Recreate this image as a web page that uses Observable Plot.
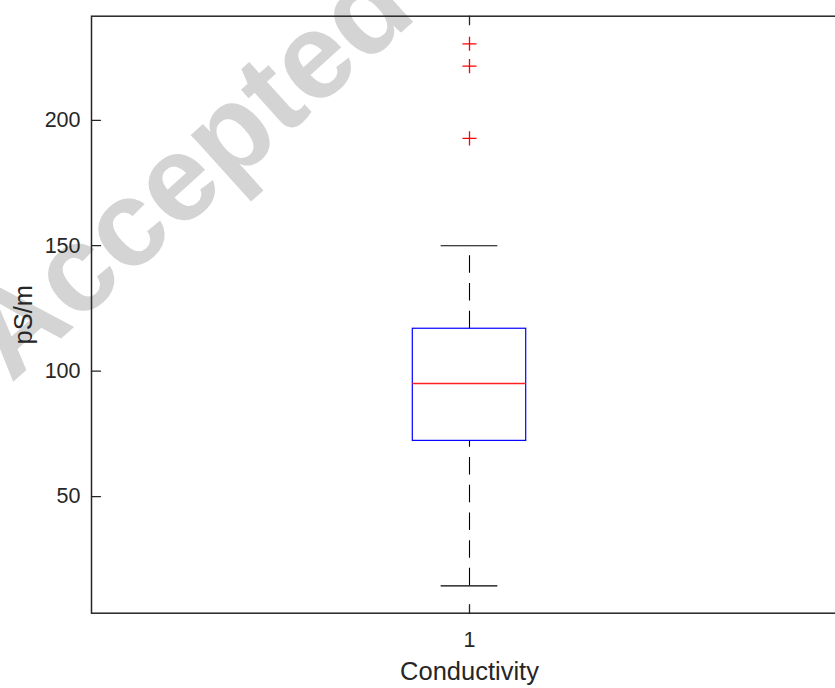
<!DOCTYPE html>
<html>
<head>
<meta charset="utf-8">
<script src="https://cdn.jsdelivr.net/npm/d3@7"></script>
<script src="https://cdn.jsdelivr.net/npm/@observablehq/plot@0.6"></script>
<style>
  html, body { margin: 0; padding: 0; background: #fff; overflow: hidden; }
  #chart svg { display: block; overflow: hidden; }
</style>
</head>
<body>
<div id="chart"></div>
<script>
// Box-plot summary for the single conductivity group (pS/m)
const categories = ["1"];
const q1 = [72.2];
const medians = [95.1];
const q3 = [116.9];
const whiskerLow = [14.4];
const whiskerHigh = [150];
const outlierValues = [[230.5, 221.6, 192.8]];

const yTicks = [50, 100, 150, 200];
const yDomain = [3.5, 241.5];
const yLabel = "pS/m";
const xLabel = "Conductivity";

const boxes = categories.map((c, i) => ({
  x: i + 1, q1: q1[i], median: medians[i], q3: q3[i], lo: whiskerLow[i], hi: whiskerHigh[i]
}));
const outliers = categories.flatMap((c, i) => outlierValues[i].map(v => ({x: i + 1, value: v})));

const ink = "#262626";
const font = "'Liberation Sans', Arial, Helvetica, sans-serif";
const boxHalf = 0.075;
const capHalf = 0.0375;

// straight tick stroke for the inward tick marks
const tickShape = {draw(context, l) { context.moveTo(0, 0); context.lineTo(0, -l); }};

const chart = Plot.plot({
  width: 835,
  height: 688,
  marginLeft: 91,
  marginTop: 15.7,
  marginBottom: 75.3,
  marginRight: -12,
  style: {fontFamily: font, fontSize: "21.5px", color: ink, background: "white"},
  x: {type: "linear", domain: [0.5, categories.length + 0.5]},
  y: {domain: yDomain},
  marks: [
    Plot.frame({stroke: ink, strokeWidth: 1.5}),
    Plot.axisY(yTicks, {anchor: "left", tickSize: 0, tickPadding: 11, label: null, fill: ink}),
    Plot.axisX(boxes.map(d => d.x), {anchor: "bottom", tickSize: 0, tickPadding: 19, label: null,
      tickFormat: d => categories[d - 1], fill: ink}),
    Plot.vector(yTicks, {y: d => d, frameAnchor: "left", rotate: 90, length: 9, anchor: "start",
      shape: tickShape, stroke: ink, strokeWidth: 1.3}),
    Plot.vector(boxes, {x: "x", frameAnchor: "bottom", rotate: 0, length: 8.5, anchor: "start",
      shape: tickShape, stroke: ink, strokeWidth: 1.3}),
    Plot.vector(boxes, {x: "x", frameAnchor: "top", rotate: 180, length: 8.5, anchor: "start",
      shape: tickShape, stroke: ink, strokeWidth: 1.3}),
    // whiskers, drawn from the lower value to the higher one
    Plot.ruleX(boxes, {x: "x", y1: "q3", y2: "hi", stroke: "#000", strokeWidth: 1.1, strokeDasharray: "17.5,10.2"}),
    Plot.ruleX(boxes, {x: "x", y1: "lo", y2: "q1", stroke: "#000", strokeWidth: 1.1, strokeDasharray: "17.5,10.2"}),
    Plot.ruleY(boxes, {y: "hi", x1: d => d.x - capHalf, x2: d => d.x + capHalf, stroke: "#000", strokeWidth: 1.1}),
    Plot.ruleY(boxes, {y: "lo", x1: d => d.x - capHalf, x2: d => d.x + capHalf, stroke: "#000", strokeWidth: 1.1}),
    Plot.rect(boxes, {x1: d => d.x - boxHalf, x2: d => d.x + boxHalf, y1: "q1", y2: "q3",
      fill: "none", stroke: "#0000ff", strokeWidth: 1.2}),
    Plot.ruleY(boxes, {y: "median", x1: d => d.x - boxHalf, x2: d => d.x + boxHalf, stroke: "#ff2020", strokeWidth: 1.4}),
    Plot.dot(outliers, {x: "x", y: "value", symbol: "plus", r: 4.6, stroke: "#ff0000", strokeWidth: 1.3}),
    Plot.text([yLabel], {text: d => d, frameAnchor: "left", textAnchor: "middle", rotate: -90, dx: -68,
      lineAnchor: "middle", fontSize: 25.5, fill: ink}),
    Plot.text([xLabel], {text: d => d, frameAnchor: "bottom", textAnchor: "middle", dy: 58.5,
      lineAnchor: "middle", fontSize: 25.5, fill: ink})
  ]
});

// light grey "Accepted" stamp behind the plot
const stamp = document.createElementNS("http://www.w3.org/2000/svg", "text");
d3.select(stamp)
  .attr("transform", "translate(215,200) rotate(-42)")
  .attr("text-anchor", "middle")
  .attr("font-family", font)
  .attr("font-weight", "bold")
  .attr("font-size", 122)
  .attr("fill", "#d4d4d4")
  .text("Accepted");
chart.insertBefore(stamp, chart.firstChild);

document.getElementById("chart").appendChild(chart);
</script>
</body>
</html>
